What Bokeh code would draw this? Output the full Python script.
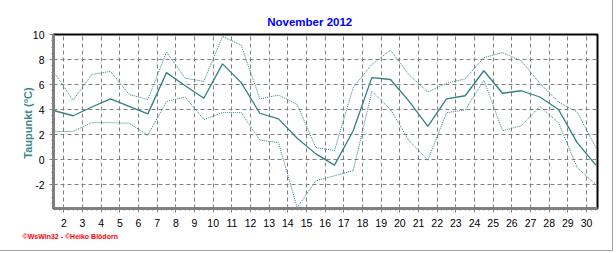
import numpy as np
from bokeh.plotting import figure
from bokeh.models import ColumnDataSource, FixedTicker, Title
from bokeh.transform import dodge
from bokeh.embed import file_html
from bokeh.resources import INLINE

# ---- data ----
days = list(range(1, 31))
dew_mean = [3.9, 3.5, 4.2, 4.85, 4.25, 3.65, 6.95, 5.9, 4.9, 7.65,
            6.15, 3.7, 3.25, 1.7, 0.45, -0.45, 2.3, 6.55, 6.4, 4.65,
            2.65, 4.85, 5.1, 7.1, 5.3, 5.5, 5.0, 4.0, 1.35, -0.45]
dew_max = [6.9, 4.75, 6.8, 7.05, 5.2, 4.8, 8.6, 6.5, 6.25, 9.85,
           9.15, 4.85, 5.15, 4.4, 0.95, 0.72, 5.75, 7.6, 8.75, 6.75,
           5.4, 6.1, 6.45, 8.15, 8.55, 7.9, 6.1, 4.6, 3.8, 0.95]
dew_min = [2.25, 2.25, 2.95, 2.95, 2.9, 1.95, 4.65, 5.0, 3.2, 3.75,
           3.75, 1.55, 1.35, -3.85, -1.7, -1.3, -0.9, 5.45, 4.0, 1.5,
           -0.05, 3.75, 3.95, 6.35, 2.3, 2.7, 4.25, 2.95, -0.65, -2.0]
x_tick_days = list(range(2, 31))
y_tick_values = [-2, 0, 2, 4, 6, 8, 10]
title_text = "November 2012"
y_label_text = "Taupunkt  (°C)"
footer_text = "©WsWin32 - ©Heiko Blödorn"

src = ColumnDataSource(dict(day=days, mean=dew_mean, hi=dew_max, lo=dew_min))

TEAL = "#2F8080"
GRAY = "#808080"

p = figure(width=613, height=251, x_range=(1.446, 30.589), y_range=(-3.92, 10.0),
           output_backend="svg", toolbar_location=None, title_location=None,
           min_border_left=53, min_border_right=16, min_border_top=34,
           min_border_bottom=43, background_fill_color="white",
           border_fill_color="white")

p.outline_line_color = "black"
p.outline_line_width = 2

# axes
xa = p.xaxis[0]
xa.ticker = FixedTicker(ticks=x_tick_days,
                        minor_ticks=list(np.arange(1.5, 30.6, 0.25)))
ya = p.yaxis[0]
ya.ticker = FixedTicker(ticks=y_tick_values,
                        minor_ticks=list(np.arange(-3.5, 10.01, 0.5)))
ya.major_label_overrides = {-2: "-2"}
for ax in (xa, ya):
    ax.axis_line_color = GRAY
    ax.axis_line_width = 3
    ax.major_tick_line_color = GRAY
    ax.minor_tick_line_color = GRAY
    ax.major_tick_in = 0
    ax.minor_tick_in = 0
    ax.major_tick_out = 4
    ax.minor_tick_out = 2
    ax.major_label_text_font = "Liberation Sans"
    ax.major_label_text_font_size = "10.5px"
    ax.major_label_text_color = "black"
xa.major_label_standoff = 6
ya.major_label_standoff = 5

ya.axis_label = y_label_text
ya.axis_label_text_font = "Liberation Sans"
ya.axis_label_text_font_style = "bold"
ya.axis_label_text_font_size = "11px"
ya.axis_label_text_color = "#3D8A8A"
ya.axis_label_standoff = -4

for g in (p.xgrid[0], p.ygrid[0]):
    g.grid_line_color = GRAY
    g.grid_line_dash = "4 3"
    g.grid_line_width = 1
    g.grid_line_alpha = 1.0

xpos = dodge("day", 0.5)
p.line(x=xpos, y="hi", source=src, line_color=TEAL, line_width=1, line_dash="1 1")
p.line(x=xpos, y="lo", source=src, line_color=TEAL, line_width=1, line_dash="1 1")
p.line(x=xpos, y="mean", source=src, line_color=TEAL, line_width=1.3)

p.add_layout(Title(text=title_text, align="left", offset=213.7,
                   text_font="Liberation Sans", text_font_style="bold",
                   text_font_size="11.5px", text_color="#0000FF",
                   standoff=14), "above")
p.add_layout(Title(text=footer_text, align="left", offset=-31,
                   text_font="Liberation Sans", text_font_style="bold",
                   text_font_size="7px", text_color="#FF0000",
                   standoff=2), "below")

p.styles = {"border-right": "1px solid #A0A0A0",
            "border-bottom": "1px solid #A0A0A0"}

open("out.html", "w").write(file_html(p, INLINE))
